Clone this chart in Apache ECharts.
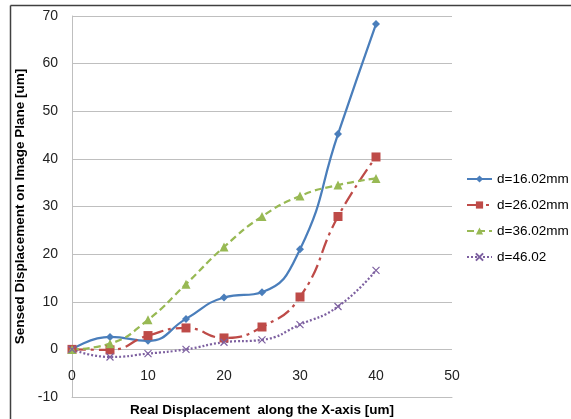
<!DOCTYPE html>
<html>
<head>
<meta charset="utf-8">
<script src="https://cdn.jsdelivr.net/npm/echarts@6/dist/echarts.min.js"></script>
<style>
  html, body { margin: 0; padding: 0; background: #fff; }
  #chart { width: 571px; height: 419px; }
</style>
</head>
<body>
<div id="chart"></div>
<script>
// x positions (um)
var xs = [0, 5, 10, 15, 20, 25, 30, 35, 40];
// sensed displacement for each d
var d16 = [0, 2.6, 1.8, 6.4, 10.9, 12.0, 21.0, 45.2, 68.3];
var d26 = [0, -0.1, 2.9, 4.5, 2.4, 4.7, 11.0, 27.9, 40.4];
var d36 = [0, 1.2, 6.2, 13.7, 21.5, 27.9, 32.2, 34.5, 35.9];
var d46 = [0, -1.6, -0.9, 0, 1.5, 2.0, 5.2, 9.0, 16.6];
var names = ['d=16.02mm', 'd=26.02mm', 'd=36.02mm', 'd=46.02'];

function pairs(ys) {
  return xs.map(function (x, i) { return [x, ys[i]]; });
}

var font = 'Liberation Sans';
var chart = echarts.init(document.getElementById('chart'));

function line(name, ys, color, symbol, size, dash) {
  return {
    name: name,
    type: 'line',
    data: pairs(ys),
    smooth: 0.5,
    symbol: symbol,
    symbolSize: size,
    showSymbol: true,
    lineStyle: { color: color, width: 2.25, type: dash },
    itemStyle: { color: color, borderColor: color, borderWidth: symbol.indexOf('path') === 0 ? 1.2 : 0 },
    emphasis: { disabled: true },
    animation: false
  };
}

chart.setOption({
  backgroundColor: '#fff',
  grid: { left: 72, right: 119, top: 16, bottom: 22, outerBoundsMode: 'none', containLabel: false },
  graphic: [
    { type: 'line', shape: { x1: 10.5, y1: 5.5, x2: 571, y2: 5.5 }, style: { stroke: '#404040', lineWidth: 1.5 } },
    { type: 'line', shape: { x1: 10.5, y1: 5.5, x2: 10.5, y2: 419 }, style: { stroke: '#404040', lineWidth: 1.5 } }
  ],
  legend: {
    orient: 'vertical',
    left: 466,
    top: 172,
    padding: 0,
    itemWidth: 25,
    itemHeight: 9,
    itemGap: 12,
    data: names,
    textStyle: { fontFamily: font, fontSize: 13.5, color: '#000' }
  },
  xAxis: {
    type: 'value',
    min: 0, max: 50, interval: 10,
    name: 'Real Displacement  along the X-axis [um]',
    nameLocation: 'middle',
    nameGap: 6,
    nameTextStyle: { fontFamily: font, fontSize: 13.5, fontWeight: 'bold', color: '#000', verticalAlign: 'top' },
    axisLine: { show: true, onZero: false, lineStyle: { color: '#bfbfbf', width: 1 } },
    axisTick: { show: false },
    // labels sit between the 0 and -10 gridlines, as in the original
    axisLabel: { fontFamily: font, fontSize: 14, color: '#222', margin: -28 },
    splitLine: { show: false }
  },
  yAxis: {
    type: 'value',
    min: -10, max: 70, interval: 10,
    name: 'Sensed Displacement on Image Plane [um]',
    nameLocation: 'middle',
    nameGap: 45,
    nameTextStyle: { fontFamily: font, fontSize: 13.5, fontWeight: 'bold', color: '#000' },
    axisLine: { show: true, lineStyle: { color: '#bfbfbf', width: 1 } },
    axisTick: { show: false },
    axisLabel: { fontFamily: font, fontSize: 14, color: '#222', margin: 14 },
    splitLine: { show: true, lineStyle: { color: '#bfbfbf', width: 1 } }
  },
  series: [
    line(names[0], d16, '#4a7ebb', 'diamond', 8, 'solid'),
    line(names[1], d26, '#be4b48', 'rect', 9, [14, 5, 3, 5]),
    line(names[2], d36, '#98b954', 'triangle', 9, [7, 4]),
    line(names[3], d46, '#7d60a0', 'path://M0,0L10,10M10,0L0,10', 7, [2, 2])
  ]
});
</script>
</body>
</html>
